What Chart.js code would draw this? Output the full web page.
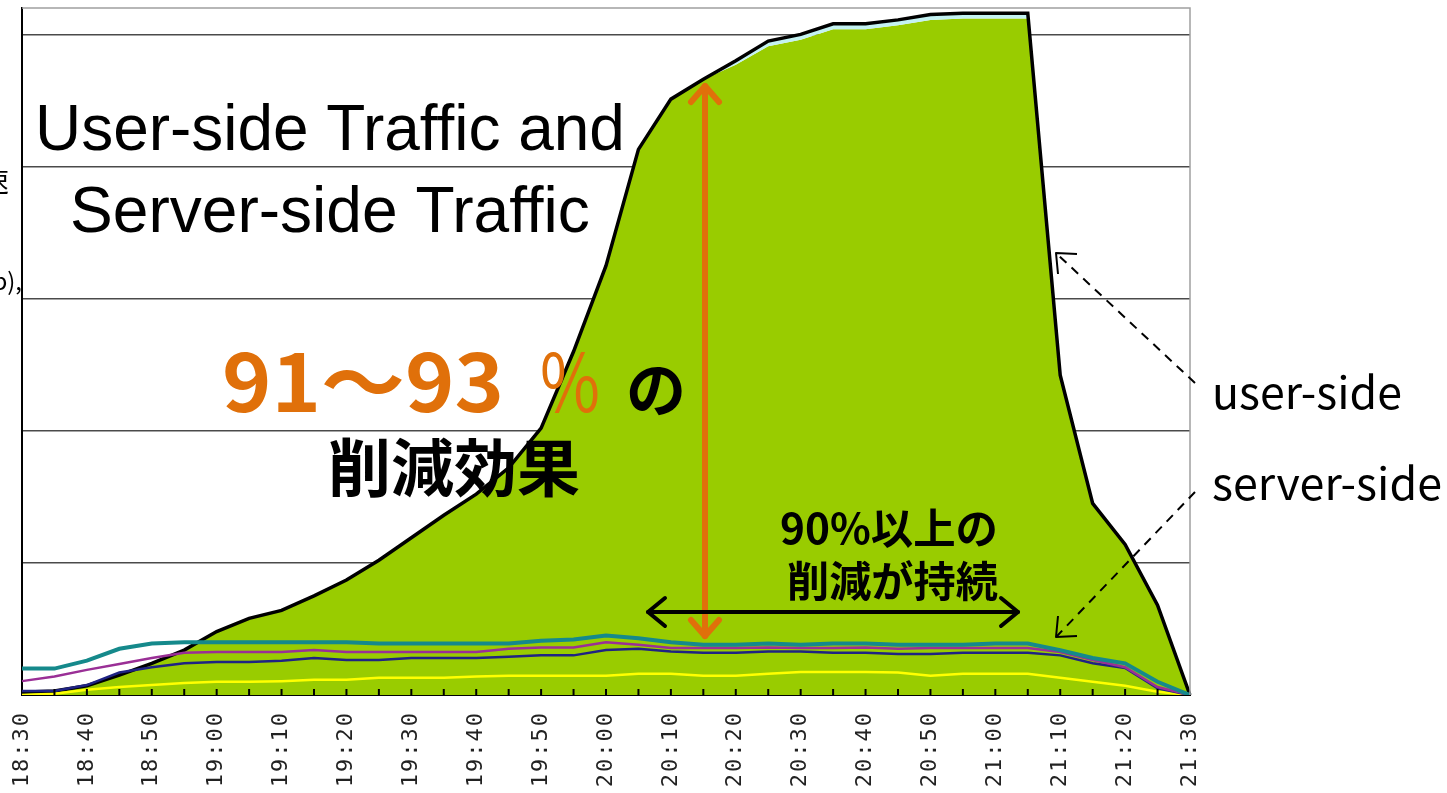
<!DOCTYPE html>
<html>
<head>
<meta charset="utf-8">
<script src="https://cdn.jsdelivr.net/npm/chart.js@4.4.1/dist/chart.umd.min.js"></script>
<style>
  html, body { margin: 0; padding: 0; background: #fff; }
  #wrap { width: 1447px; height: 793px; position: relative; }
</style>
</head>
<body>
<div id="wrap"><canvas id="trafficChart"></canvas></div>
<script>
// time axis, one point every 5 minutes
const times = ['18:30','18:35','18:40','18:45','18:50','18:55','19:00','19:05','19:10','19:15',
  '19:20','19:25','19:30','19:35','19:40','19:45','19:50','19:55','20:00','20:05',
  '20:10','20:15','20:20','20:25','20:30','20:35','20:40','20:45','20:50','20:55',
  '21:00','21:05','21:10','21:15','21:20','21:25','21:30'];

// user-side traffic (black outline) and the green layer under it
const userTop = [0.02, 0.03, 0.07, 0.15, 0.24, 0.34, 0.48, 0.58, 0.64, 0.75,
  0.87, 1.02, 1.19, 1.36, 1.52, 1.72, 2.02, 2.60, 3.25, 4.13,
  4.51, 4.66, 4.80, 4.95, 5.00, 5.08, 5.08, 5.11, 5.15, 5.16,
  5.16, 5.16, 2.42, 1.45, 1.14, 0.68, 0];
const greenTop = [0.02, 0.03, 0.07, 0.15, 0.24, 0.34, 0.48, 0.58, 0.64, 0.75,
  0.87, 1.02, 1.19, 1.36, 1.52, 1.72, 2.02, 2.60, 3.25, 4.13,
  4.51, 4.66, 4.77, 4.91, 4.96, 5.04, 5.04, 5.07, 5.11, 5.12,
  5.12, 5.12, 2.42, 1.45, 1.14, 0.68, 0];

// server-side traffic lines
const serverTeal = [0.20, 0.20, 0.26, 0.35, 0.39, 0.40, 0.40, 0.40, 0.40, 0.40,
  0.40, 0.39, 0.39, 0.39, 0.39, 0.39, 0.41, 0.42, 0.45, 0.43,
  0.40, 0.38, 0.38, 0.39, 0.38, 0.39, 0.39, 0.38, 0.38, 0.38,
  0.39, 0.39, 0.34, 0.28, 0.24, 0.10, 0];
const serverPurple = [0.105, 0.14, 0.19, 0.235, 0.28, 0.32, 0.325, 0.325, 0.325, 0.34,
  0.325, 0.325, 0.325, 0.325, 0.325, 0.35, 0.36, 0.36, 0.40, 0.38,
  0.355, 0.355, 0.355, 0.36, 0.355, 0.355, 0.36, 0.35, 0.355, 0.355,
  0.355, 0.355, 0.325, 0.265, 0.21, 0.06, 0];
const serverNavy = [0.03, 0.03, 0.075, 0.17, 0.21, 0.24, 0.25, 0.25, 0.26, 0.28,
  0.265, 0.265, 0.28, 0.28, 0.28, 0.29, 0.30, 0.30, 0.34, 0.35,
  0.33, 0.32, 0.32, 0.33, 0.33, 0.32, 0.32, 0.31, 0.31, 0.32,
  0.32, 0.32, 0.30, 0.24, 0.205, 0.05, 0];
const serverYellow = [0, 0.01, 0.04, 0.06, 0.075, 0.09, 0.10, 0.10, 0.105, 0.115,
  0.115, 0.13, 0.13, 0.13, 0.14, 0.145, 0.145, 0.145, 0.145, 0.16,
  0.16, 0.145, 0.145, 0.16, 0.175, 0.175, 0.175, 0.17, 0.145, 0.16,
  0.16, 0.16, 0.13, 0.10, 0.07, 0.025, 0];

const yTicks = [0, 1, 2, 3, 4, 5];

// draw text at a given font size, squeezed/stretched to a given width
function boxText(ctx, str, x, y, w, size, weight, family, color) {
  ctx.font = weight + ' ' + size + 'px ' + family;
  const sx = w / ctx.measureText(str).width;
  ctx.save();
  ctx.translate(x, y);
  ctx.scale(sx, 1);
  ctx.fillStyle = color;
  ctx.fillText(str, 0, 0);
  ctx.restore();
}

function fitText(ctx, str, x, y, w, weight, family, color) {
  ctx.font = weight + ' 100px ' + family;
  const size = 100 * w / ctx.measureText(str).width;
  ctx.font = weight + ' ' + size + 'px ' + family;
  ctx.fillStyle = color;
  ctx.fillText(str, x, y);
}

function line(ctx, pts) {
  ctx.beginPath();
  ctx.moveTo(pts[0][0], pts[0][1]);
  for (let i = 1; i < pts.length; i++) ctx.lineTo(pts[i][0], pts[i][1]);
  ctx.stroke();
}

const decor = {
  id: 'decor',
  beforeDraw(chart) {
    chart.ctx.letterSpacing = '2px';
  },
  afterDraw(chart) {
    const ctx = chart.ctx;
    const a = chart.chartArea;
    const xs = chart.scales.x;
    ctx.save();
    ctx.letterSpacing = '0px';
    // frame on top/right
    ctx.strokeStyle = '#a0a0a0';
    ctx.lineWidth = 1.5;
    line(ctx, [[a.left, a.top], [a.right, a.top], [a.right, a.bottom]]);
    // inner tick marks every 5 minutes
    ctx.strokeStyle = '#000';
    ctx.lineWidth = 2;
    for (let i = 1; i < times.length - 1; i++) {
      const px = xs.getPixelForValue(i);
      line(ctx, [[px, a.bottom], [px, a.bottom - 6]]);
    }

    // titles
    ctx.textAlign = 'left';
    ctx.textBaseline = 'alphabetic';
    fitText(ctx, 'User-side Traffic and', 35, 150, 590, 'normal', '"Liberation Sans"', '#000');
    fitText(ctx, 'Server-side Traffic', 70, 232, 520, 'normal', '"Liberation Sans"', '#000');

    const jp = '"Noto Sans CJK JP"';
    boxText(ctx, '91〜93', 222, 412, 282, 80, 'bold', jp, '#e0700a');
    boxText(ctx, '%', 540, 412, 60, 80, 'normal', jp, '#e0700a');
    fitText(ctx, 'の', 626, 412, 60, 'bold', jp, '#000');
    fitText(ctx, '削減効果', 328, 491, 252, 'bold', jp, '#000');
    fitText(ctx, '90%以上の', 780, 544, 218, 'bold', jp, '#000');
    fitText(ctx, '削減が持続', 787, 597, 211, 'bold', jp, '#000');
    fitText(ctx, 'user-side', 1212, 409, 190, 'normal', jp, '#000');
    fitText(ctx, 'server-side', 1212, 500, 230, 'normal', jp, '#000');

    // cut-off axis title on the left edge
    ctx.textAlign = 'right';
    ctx.font = '28px ' + jp;
    ctx.fillStyle = '#000';
    ctx.fillText('速', 9, 192);
    ctx.font = '24px ' + jp;
    ctx.fillText('(Mb),', 22, 290);

    // orange double arrow
    ctx.lineCap = 'round';
    ctx.lineJoin = 'round';
    ctx.strokeStyle = '#e0700a';
    ctx.lineWidth = 6;
    line(ctx, [[705, 86], [705, 636]]);
    line(ctx, [[691, 102], [705, 86], [719, 102]]);
    line(ctx, [[691, 620], [705, 636], [719, 620]]);

    // black double arrow
    ctx.strokeStyle = '#000';
    ctx.lineWidth = 4;
    line(ctx, [[648, 612], [1018, 612]]);
    line(ctx, [[665, 598], [648, 612], [665, 626]]);
    line(ctx, [[1001, 598], [1018, 612], [1001, 626]]);

    // dashed pointers
    ctx.lineWidth = 2;
    ctx.lineCap = 'butt';
    ctx.setLineDash([9, 7]);
    line(ctx, [[1195, 383], [1057, 254]]);
    line(ctx, [[1195, 492], [1057, 636]]);
    ctx.setLineDash([]);
    line(ctx, [[1077, 254], [1056, 253], [1058, 274]]);
    line(ctx, [[1077, 636], [1056, 637], [1058, 616]]);
    ctx.restore();
  }
};

const ctx = document.getElementById('trafficChart');
const chart = new Chart(ctx, {
  type: 'line',
  data: {
    labels: times,
    datasets: [
      { label: 'server 1', data: serverTeal, borderColor: '#15898b', borderWidth: 4, order: 1 },
      { label: 'server 2', data: serverPurple, borderColor: '#9a2f96', borderWidth: 2.5, order: 1 },
      { label: 'server 3', data: serverNavy, borderColor: '#1f2383', borderWidth: 2.5, order: 1 },
      { label: 'server 4', data: serverYellow, borderColor: '#ffff00', borderWidth: 2.5, order: 1 },
      { label: 'user-side', data: userTop, borderColor: '#000', borderWidth: 3.5,
        fill: 5, backgroundColor: '#c4f2f2', order: 2 },
      { label: 'user-side base', data: greenTop, borderWidth: 0, borderColor: 'rgba(0,0,0,0)',
        fill: 'origin', backgroundColor: '#99cc00', order: 3 }
    ]
  },
  options: {
    responsive: true,
    maintainAspectRatio: false,
    animation: false,
    elements: { point: { radius: 0 }, line: { tension: 0 } },
    layout: { padding: { left: 22, right: 257, top: 8, bottom: 0 } },
    plugins: { legend: { display: false }, tooltip: { enabled: false } },
    scales: {
      x: {
        grid: { display: false },
        border: { display: true, color: '#000', width: 2 },
        ticks: {
          autoSkip: false,
          minRotation: 90,
          maxRotation: 90,
          padding: 8,
          color: '#222',
          font: { family: '"DejaVu Sans Mono"', size: 22 },
          callback: (v, i) => (i % 2 === 0 ? times[i] : '')
        },
        afterFit: (scale) => { scale.height = 98; }
      },
      y: {
        min: 0,
        max: 5.2,
        afterBuildTicks: (scale) => { scale.ticks = yTicks.map(v => ({ value: v })); },
        ticks: { display: false },
        grid: {
          drawTicks: false,
          color: (c) => (c.tick && c.tick.value === 0 ? '#000' : '#4a4a4a'),
          lineWidth: (c) => (c.tick && c.tick.value === 0 ? 2 : 1.5)
        },
        border: { display: true, color: '#000', width: 2 },
        afterFit: (scale) => { scale.width = 0; }
      }
    }
  },
  plugins: [decor]
});
</script>
</body>
</html>
